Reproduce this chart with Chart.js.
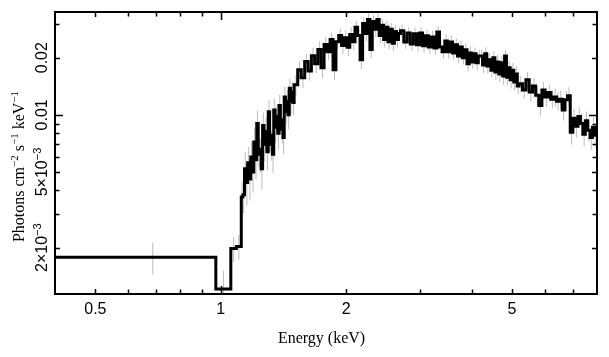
<!DOCTYPE html>
<html>
<head>
<meta charset="utf-8">
<script src="https://cdn.jsdelivr.net/npm/chart.js@4.4.1/dist/chart.umd.min.js"></script>
<style>
  html, body { margin: 0; padding: 0; background: #ffffff; }
  canvas { display: block; }
</style>
</head>
<body>
<canvas id="c" width="609" height="357"></canvas>
<script>
// Bin edges of the spectrum (keV)
const binEdges = [0.4, 0.973, 1.057, 1.09,
  1.12, 1.13, 1.14, 1.15, 1.16, 1.17, 1.18, 1.19, 1.20, 1.21, 1.22, 1.23, 1.24, 1.25, 1.26, 1.27, 1.28, 1.29, 1.30,
  1.31, 1.32, 1.33, 1.34, 1.35, 1.36, 1.37, 1.38, 1.39, 1.40, 1.41, 1.42, 1.43, 1.44, 1.45, 1.46, 1.47, 1.48, 1.49, 1.50,
  1.53, 1.56, 1.59, 1.62, 1.65, 1.68, 1.71, 1.74, 1.77, 1.80, 1.83, 1.86, 1.89, 1.92, 1.95, 1.98, 2.01, 2.04, 2.07, 2.10,
  2.13, 2.16, 2.19, 2.22, 2.25, 2.28, 2.31, 2.34, 2.37, 2.40, 2.43, 2.46, 2.49, 2.52, 2.55, 2.58, 2.61, 2.64, 2.67, 2.70,
  2.75, 2.80, 2.85, 2.90, 2.95, 3.00, 3.05, 3.10, 3.15, 3.20, 3.25, 3.30, 3.35, 3.40, 3.45, 3.50, 3.55, 3.60, 3.65, 3.70,
  3.75, 3.80, 3.85, 3.90, 3.95, 4.00, 4.05, 4.10, 4.15, 4.20,
  4.25, 4.30, 4.35, 4.40, 4.45, 4.50, 4.55, 4.60, 4.65, 4.70, 4.75, 4.80, 4.85, 4.90, 4.95, 5.00, 5.05, 5.10, 5.15, 5.20,
  5.30, 5.40, 5.50, 5.60, 5.70, 5.80, 5.90, 6.00, 6.10, 6.20, 6.30, 6.40, 6.50, 6.60, 6.70, 6.80, 6.90, 7.00, 7.10, 7.20,
  7.30, 7.40, 7.50, 7.60, 7.70, 7.80, 7.90, 8.00];

// Flux per bin (photons cm^-2 s^-1 keV^-1)
const flux = [0.00178, 0.00121, 0.00198, 0.00203,
  0.0037, 0.0038, 0.0052, 0.0044, 0.0056, 0.0046, 0.0060, 0.0050, 0.0072, 0.0058, 0.0090, 0.0066, 0.0062, 0.0052, 0.0088,
  0.0070, 0.0082, 0.0064, 0.0104, 0.0078, 0.0070, 0.0062, 0.0106, 0.0086, 0.0098, 0.0080, 0.0112, 0.0094, 0.0084, 0.0076,
  0.0124, 0.0104, 0.0118, 0.0100, 0.0138, 0.0118, 0.0132, 0.0116,
  0.0144, 0.0173, 0.0157, 0.0191, 0.0170, 0.0205, 0.0186, 0.0221, 0.0177, 0.0235, 0.0215, 0.0249, 0.0173, 0.0243, 0.0262,
  0.0232, 0.0255, 0.0227, 0.0265, 0.0243, 0.0289, 0.0262, 0.0195, 0.0303, 0.0268, 0.0318, 0.0221, 0.0310, 0.0282, 0.0318,
  0.0262, 0.0296, 0.0249, 0.0289, 0.0243, 0.0282, 0.0238, 0.0275, 0.0249, 0.0268,
  0.0277, 0.0242, 0.0270, 0.0236, 0.0267, 0.0234, 0.0270, 0.0231, 0.0261, 0.0228, 0.0257, 0.0225, 0.0273, 0.0228, 0.0215,
  0.0245, 0.0215, 0.0242, 0.0212, 0.0234, 0.0204, 0.0228, 0.0200, 0.0220, 0.0186, 0.0212, 0.0190, 0.0210, 0.0188, 0.0204,
  0.0204, 0.0183, 0.0210, 0.0181, 0.0195, 0.0172, 0.0200, 0.0168, 0.0190, 0.0164, 0.0188, 0.0160, 0.0204, 0.0158, 0.0177,
  0.0153, 0.0172, 0.0149, 0.0164, 0.0142,
  0.0146, 0.0135, 0.0153, 0.0132, 0.0142, 0.0127, 0.0112, 0.0135, 0.0124, 0.0131, 0.0121, 0.0124, 0.0118, 0.0121, 0.0106,
  0.0120, 0.0126, 0.0081, 0.0096, 0.0087, 0.0098, 0.0090, 0.0079, 0.0093, 0.0083, 0.0076, 0.0086, 0.0078];

// Relative 1-sigma error per bin
const relErr = [0.19, 0.25, 0.15, 0.15,
  0.20, 0.20, 0.22, 0.24, 0.21, 0.23, 0.20, 0.22, 0.19, 0.21, 0.17, 0.20, 0.20, 0.22, 0.17, 0.19, 0.18, 0.20, 0.15, 0.18,
  0.18, 0.20, 0.15, 0.17, 0.16, 0.18, 0.14, 0.16, 0.16, 0.18, 0.13, 0.15, 0.14, 0.16, 0.12, 0.14, 0.13, 0.14,
  0.12, 0.11, 0.12, 0.10, 0.11, 0.10, 0.11, 0.10, 0.12, 0.09, 0.10, 0.09, 0.12, 0.09, 0.09, 0.10, 0.09, 0.10, 0.09, 0.10,
  0.08, 0.09, 0.11, 0.08, 0.09, 0.08, 0.10, 0.08, 0.09, 0.08, 0.09, 0.08, 0.09, 0.08, 0.09, 0.08, 0.09, 0.08, 0.09, 0.08,
  0.08, 0.08, 0.07, 0.08, 0.08, 0.08, 0.07, 0.08, 0.08, 0.08, 0.08, 0.08, 0.07, 0.08, 0.08, 0.08, 0.08, 0.08, 0.08, 0.08,
  0.08, 0.08, 0.08, 0.08, 0.09, 0.08, 0.08, 0.08, 0.09, 0.08,
  0.08, 0.09, 0.08, 0.09, 0.08, 0.09, 0.08, 0.09, 0.09, 0.09, 0.09, 0.10, 0.08, 0.10, 0.09, 0.10, 0.09, 0.10, 0.10, 0.10,
  0.10, 0.10, 0.10, 0.11, 0.10, 0.11, 0.12, 0.10, 0.11, 0.10, 0.11, 0.11, 0.11, 0.11, 0.12, 0.11, 0.11, 0.14, 0.12, 0.13,
  0.12, 0.13, 0.14, 0.12, 0.13, 0.14, 0.13, 0.14];

// Axis ticks
const xTickValues = [0.5, 1, 2, 5];
const xTickLabels = ['0.5', '1', '2', '5'];
const xMinorTicks = [0.6, 0.7, 0.8, 0.9, 3, 4, 6, 7];
const yTickValues = [0.002, 0.005, 0.01, 0.02];
const yTickLabels = [['2\u00d710', '\u22123'], ['5\u00d710', '\u22123'], ['0.01', ''], ['0.02', '']];
const yMinorTicks = [0.003, 0.004, 0.006, 0.007, 0.008, 0.009, 0.03];
const xTitle = 'Energy (keV)';
const yTitleParts = [['Photons cm', ''], ['', '\u22122'], [' s', ''], ['', '\u22121'], [' keV', ''], ['', '\u22121']];

// Build step-line points and error-bar segments
const stepPoints = [];
for (let i = 0; i < flux.length; i++) stepPoints.push({ x: binEdges[i], y: flux[i] });
stepPoints.push({ x: binEdges[flux.length], y: flux[flux.length - 1] });

const errPoints = [];
for (let i = 0; i < flux.length; i++) {
  const c = (binEdges[i] + binEdges[i + 1]) / 2;
  const e = flux[i] * relErr[i];
  errPoints.push({ x: c, y: Math.max(flux[i] - e, 1e-5) });
  errPoints.push({ x: c, y: flux[i] + e });
  errPoints.push({ x: c, y: null });
}

const SANS = '"Liberation Sans", Arial, Helvetica, sans-serif';
const SERIF = '"Liberation Serif", "Times New Roman", serif';

const framePlugin = {
  id: 'frame',
  afterDraw(chart) {
    const { ctx, chartArea: a, scales } = chart;
    const xs = scales.x, ys = scales.y;
    ctx.save();
    ctx.strokeStyle = '#000';
    ctx.lineWidth = 1.5;
    const xt = (v, len) => {
      const px = Math.round(xs.getPixelForValue(v)) + 0.5;
      ctx.beginPath();
      ctx.moveTo(px, a.bottom); ctx.lineTo(px, a.bottom - len);
      ctx.moveTo(px, a.top); ctx.lineTo(px, a.top + len);
      ctx.stroke();
    };
    const yt = (v, len) => {
      const py = Math.round(ys.getPixelForValue(v)) + 0.5;
      ctx.beginPath();
      ctx.moveTo(a.left, py); ctx.lineTo(a.left + len, py);
      ctx.moveTo(a.right, py); ctx.lineTo(a.right - len, py);
      ctx.stroke();
    };
    xMinorTicks.forEach(v => xt(v, 4.5));
    xTickValues.forEach(v => xt(v, v === 1 ? 8 : 5));
    yMinorTicks.forEach(v => yt(v, 4.5));
    yTickValues.forEach(v => yt(v, v === 0.01 ? 8 : 5));
    ctx.lineWidth = 2;
    ctx.strokeRect(a.left, a.top, a.right - a.left, a.bottom - a.top);

    ctx.fillStyle = '#000';
    ctx.font = '16px ' + SANS;
    ctx.textAlign = 'center';
    ctx.textBaseline = 'alphabetic';
    xTickValues.forEach((v, i) => {
      ctx.fillText(xTickLabels[i], xs.getPixelForValue(v), 314);
    });
    ctx.font = '16px ' + SERIF;
    ctx.fillText(xTitle, 321.5, 343);

    yTickValues.forEach((v, i) => {
      const py = ys.getPixelForValue(v);
      const [main, sup] = yTickLabels[i];
      ctx.save();
      ctx.translate(47, py);
      ctx.rotate(-Math.PI / 2);
      ctx.textAlign = 'left';
      ctx.font = '16px ' + SANS;
      const wm = ctx.measureText(main).width;
      ctx.font = '11px ' + SANS;
      const ws = sup ? ctx.measureText(sup).width : 0;
      const x0 = -(wm + ws) / 2;
      ctx.font = '16px ' + SANS;
      ctx.fillText(main, x0, 0);
      if (sup) {
        ctx.font = '11px ' + SANS;
        ctx.fillText(sup, x0 + wm, -6);
      }
      ctx.restore();
    });

    ctx.save();
    ctx.translate(23.5, 166.5);
    ctx.rotate(-Math.PI / 2);
    ctx.textAlign = 'left';
    let total = 0;
    const widths = yTitleParts.map(([m, s]) => {
      let w;
      if (m) { ctx.font = '16px ' + SERIF; w = ctx.measureText(m).width; }
      else { ctx.font = '11px ' + SERIF; w = ctx.measureText(s).width; }
      total += w; return w;
    });
    let x = -total / 2;
    yTitleParts.forEach(([m, s], i) => {
      if (m) { ctx.font = '16px ' + SERIF; ctx.fillText(m, x, 0); }
      else { ctx.font = '11px ' + SERIF; ctx.fillText(s, x, -6); }
      x += widths[i];
    });
    ctx.restore();
    ctx.restore();
  }
};

new Chart(document.getElementById('c'), {
  type: 'line',
  data: {
    datasets: [
      {
        label: 'spectrum',
        data: stepPoints,
        stepped: 'before',
        borderColor: '#000000',
        borderWidth: 3,
        borderJoinStyle: 'miter',
        pointRadius: 0,
        fill: false,
        order: 0
      },
      {
        label: 'errors',
        data: errPoints,
        borderColor: '#bcbcbc',
        borderWidth: 1,
        pointRadius: 0,
        spanGaps: false,
        fill: false,
        order: 1
      }
    ]
  },
  options: {
    responsive: false,
    devicePixelRatio: 1,
    animation: false,
    layout: { padding: { top: 12, right: 12, left: 0, bottom: 0 } },
    plugins: { legend: { display: false }, tooltip: { enabled: false } },
    scales: {
      x: {
        type: 'logarithmic', min: 0.4, max: 8,
        ticks: { display: false },
        grid: { display: false },
        border: { display: false },
        afterFit(s) { s.height = 63; }
      },
      y: {
        type: 'logarithmic', min: 0.00114, max: 0.0348,
        ticks: { display: false },
        grid: { display: false },
        border: { display: false },
        afterFit(s) { s.width = 55; }
      }
    }
  },
  plugins: [framePlugin]
});
</script>
</body>
</html>
